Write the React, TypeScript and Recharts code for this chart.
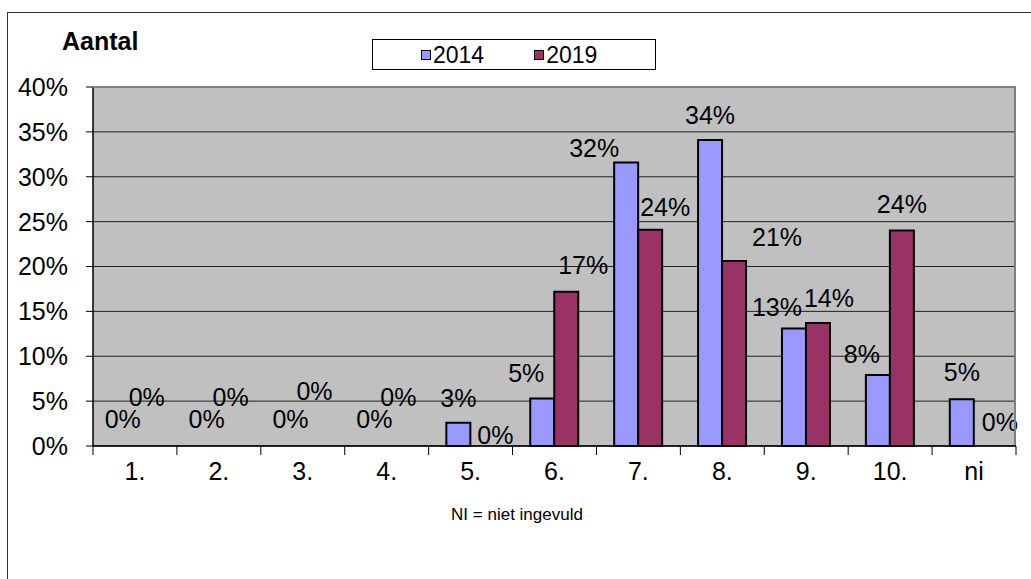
import React from 'react';
import { BarChart, Bar, XAxis, YAxis, CartesianGrid, LabelList, Rectangle } from 'recharts';

const categories = ['1.', '2.', '3.', '4.', '5.', '6.', '7.', '8.', '9.', '10.', 'ni'];
const values2014 = [0, 0, 0, 0, 2.6, 5.3, 31.6, 34.1, 13.1, 7.9, 5.2];
const values2019 = [0, 0, 0, 0, 0, 17.2, 24.1, 20.6, 13.7, 24.0, 0];
const yTicks = [0, 5, 10, 15, 20, 25, 30, 35, 40];

// label nudges (px) relative to bar top centre, like the hand-moved Excel labels
const labelDx2014 = [0, 0, 0, 0, 0, -16, -32, 0, -17, -16, 0];
const labelDy2014 = [-27, -27, -27, -27, -25, -25, -14, -25, -21, -21, -27];
const labelDx2019 = [0, 0, 0, 0, 13, 17, 15, 43, 11, 0, 14];
const labelDy2019 = [-49, -49, -55, -49, -11, -27, -23, -24, -25, -27, -24];

const series = [
  { key: 'y2014', name: '2014', color: '#9999FF', dx: labelDx2014, dy: labelDy2014 },
  { key: 'y2019', name: '2019', color: '#993366', dx: labelDx2019, dy: labelDy2019 },
];

const data = categories.map((c, i) => ({ name: c, y2014: values2014[i], y2019: values2019[i] }));

const FONT = '"Liberation Sans", Arial, sans-serif';
const W = 1031;
const H = 579;
const PLOT_LEFT = 93;
const PLOT_RIGHT = 1016;
const PLOT_TOP = 87;
const PLOT_BOTTOM = 446;
const BAND = (PLOT_RIGHT - PLOT_LEFT) / categories.length;

const makeLabel = (dx: number[], dy: number[]) => (props: any) => {
  const { x, y, width, value, index } = props;
  return (
    <text
      x={Number(x) + Number(width) / 2 + dx[index]}
      y={Number(y) + dy[index]}
      textAnchor="middle"
      dominantBaseline="central"
      fontSize={25}
      fontFamily={FONT}
      fill="#000"
    >
      {Math.round(value)}%
    </text>
  );
};

// zero bars keep a hair of height so their labels survive, but draw nothing
const BarShape = (props: any) => (props.height > 0.5 ? <Rectangle {...props} /> : <g />);

const XTick = (props: any) => {
  const { x, y, payload, index } = props;
  const left = x - BAND / 2;
  return (
    <g>
      <line x1={left} x2={left} y1={y} y2={y + 9} stroke="#000" strokeWidth={1} />
      {index === categories.length - 1 && (
        <line x1={x + BAND / 2} x2={x + BAND / 2} y1={y} y2={y + 9} stroke="#000" strokeWidth={1} />
      )}
      <text x={x} y={y + 25} textAnchor="middle" dominantBaseline="central" fontSize={25} fontFamily={FONT} fill="#000">
        {payload.value}
      </text>
    </g>
  );
};

export default function App() {
  return (
    <div style={{ position: 'fixed', left: 0, top: 0, width: W, height: H, overflow: 'hidden', background: '#fff', fontFamily: FONT }}>
      <div style={{ position: 'absolute', left: 7, top: 12, width: 1200, height: 800, border: '1px solid #333' }} />

      <div style={{ position: 'absolute', left: 0, top: 0 }}>
        <BarChart
          width={W}
          height={H}
          data={data}
          margin={{ top: PLOT_TOP, right: W - PLOT_RIGHT, bottom: H - PLOT_BOTTOM - 60, left: PLOT_LEFT - 80 }}
          barCategoryGap={17.7}
          barGap={0}
        >
          <CartesianGrid vertical={false} fill="#C0C0C0" stroke="#222" strokeWidth={1} />
          <XAxis
            dataKey="name"
            height={60}
            axisLine={{ stroke: '#000', strokeWidth: 1.5 }}
            tickLine={false}
            tickSize={0}
            tickMargin={0}
            interval={0}
            tick={<XTick />}
          />
          <YAxis
            width={80}
            domain={[0, 40]}
            ticks={yTicks}
            interval={0}
            axisLine={{ stroke: '#000', strokeWidth: 1.5 }}
            tickLine={{ stroke: '#000' }}
            tickSize={7}
            tickMargin={18}
            tickFormatter={(v: number) => `${v}%`}
            tick={{ fontSize: 25, fill: '#000', fontFamily: FONT }}
          />
          {series.map(s => (
            <Bar
              key={s.key}
              dataKey={s.key}
              name={s.name}
              fill={s.color}
              stroke="#000"
              strokeWidth={2}
              minPointSize={0.01}
              shape={BarShape}
              isAnimationActive={false}
            >
              <LabelList dataKey={s.key} content={makeLabel(s.dx, s.dy)} />
            </Bar>
          ))}
        </BarChart>
      </div>

      {/* plot frame, top and right */}
      <div
        style={{
          position: 'absolute',
          left: PLOT_LEFT,
          top: PLOT_TOP - 1,
          width: PLOT_RIGHT - PLOT_LEFT,
          height: PLOT_BOTTOM - PLOT_TOP,
          borderTop: '2px solid #808080',
          borderRight: '2px solid #808080',
          boxSizing: 'border-box',
          pointerEvents: 'none',
        }}
      />

      <div style={{ position: 'absolute', left: 62, top: 27, fontSize: 25, fontWeight: 'bold', color: '#000' }}>Aantal</div>

      {/* legend */}
      <div
        style={{
          position: 'absolute',
          left: 372,
          top: 39,
          width: 284,
          height: 31,
          boxSizing: 'border-box',
          border: '1px solid #000',
          background: '#fff',
          display: 'flex',
          alignItems: 'center',
          paddingLeft: 48,
        }}
      >
        {series.map(s => (
          <span key={s.key} style={{ display: 'flex', alignItems: 'center', marginRight: 50 }}>
            <span style={{ width: 8, height: 8, border: '1.5px solid #000', background: s.color }} />
            <span style={{ fontSize: 23, marginLeft: 2, lineHeight: '24px' }}>{s.name}</span>
          </span>
        ))}
      </div>

      <div style={{ position: 'absolute', left: 0, width: 1034, top: 505, textAlign: 'center', fontSize: 17, color: '#000' }}>
        NI = niet ingevuld
      </div>
    </div>
  );
}
